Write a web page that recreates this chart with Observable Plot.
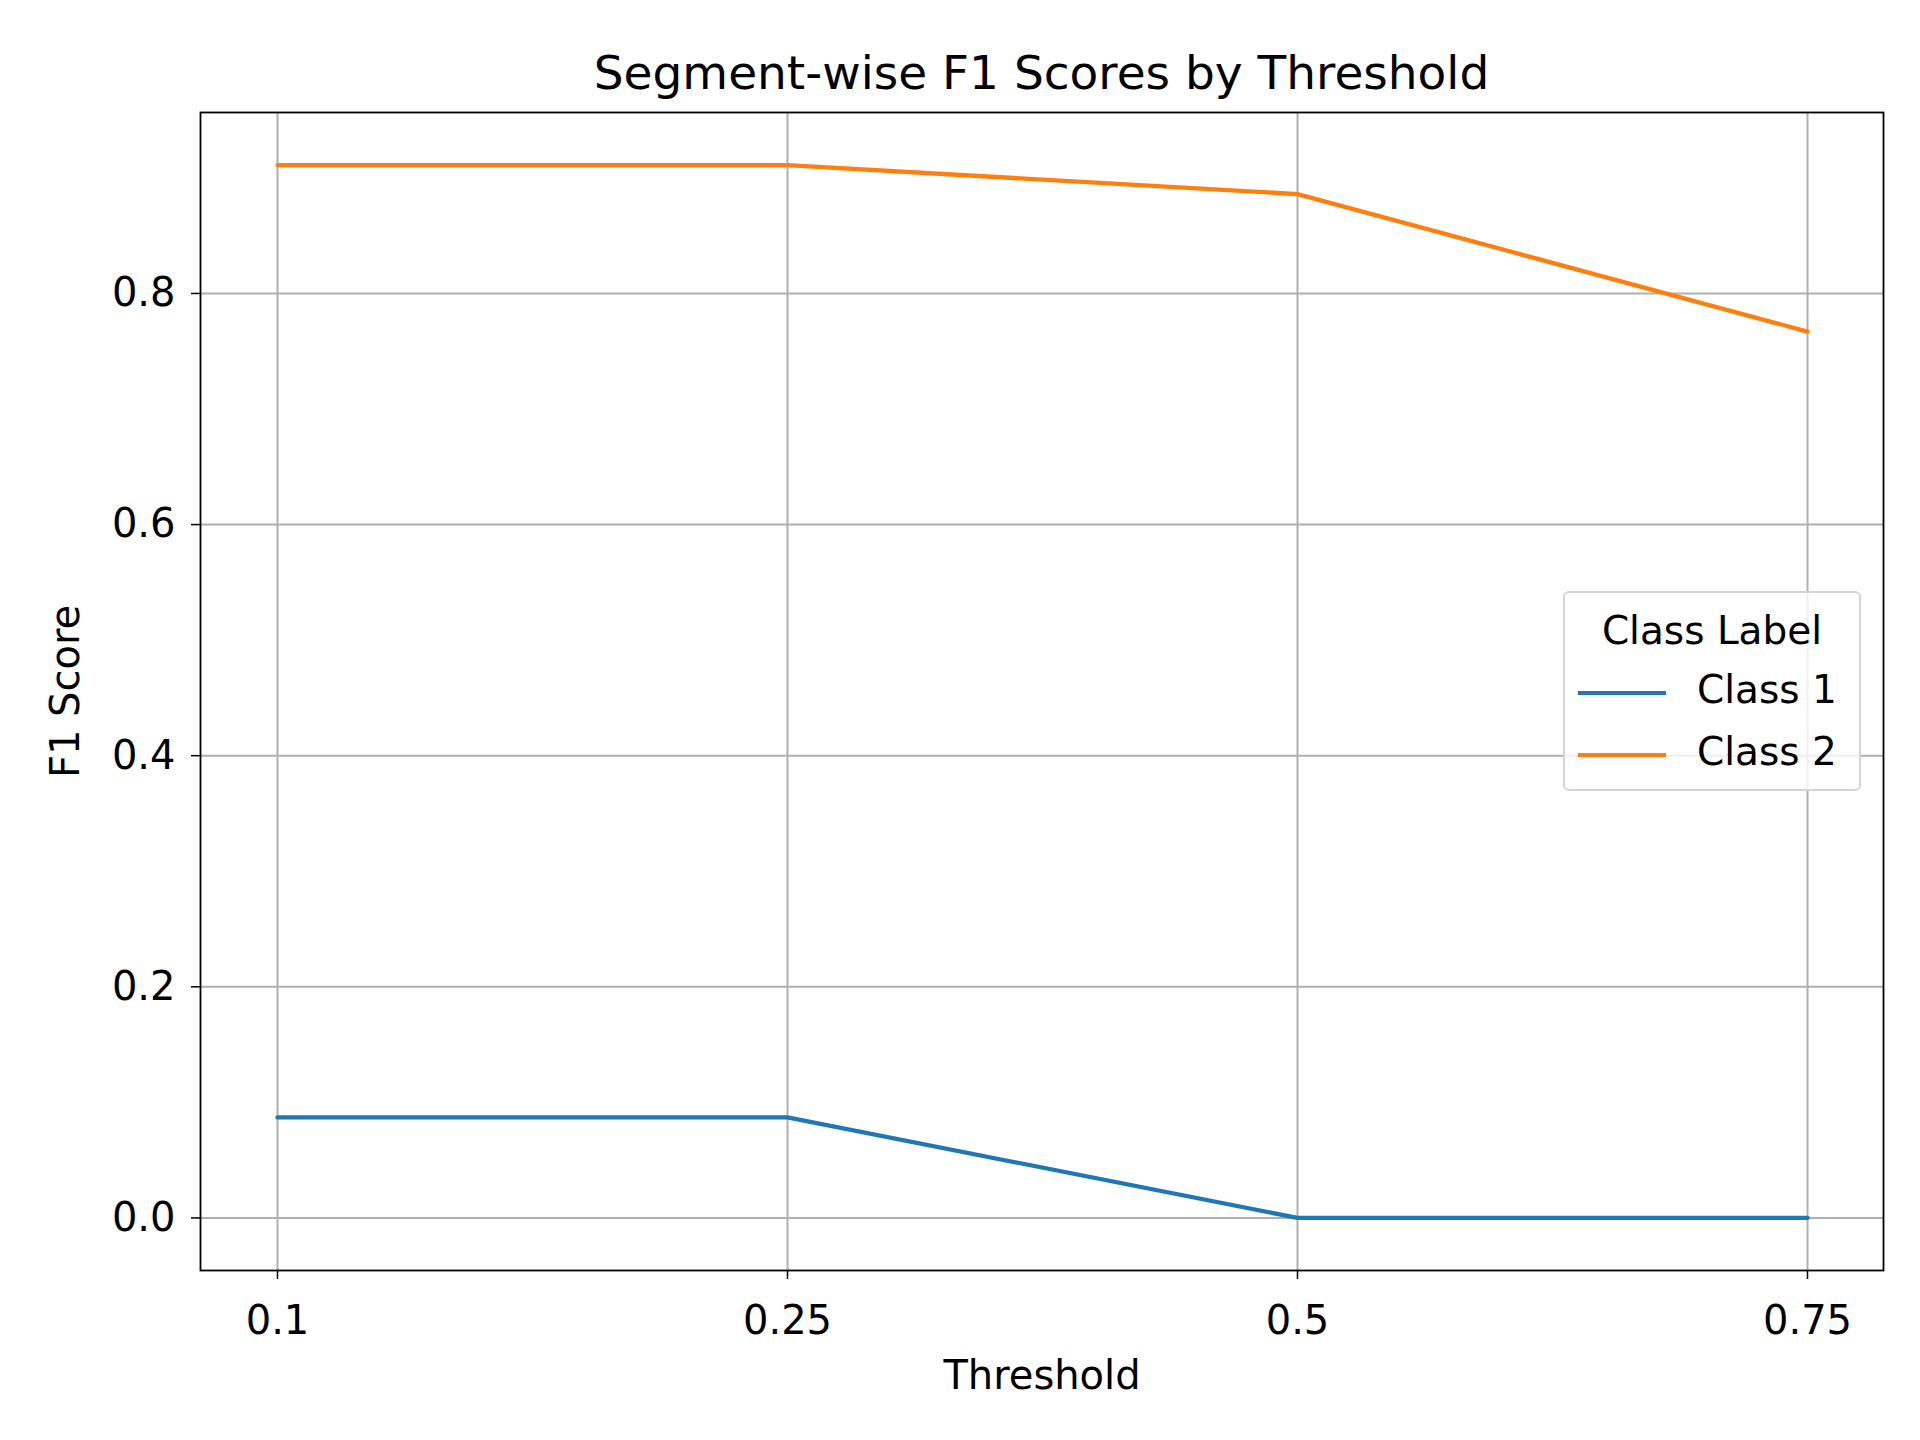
<!DOCTYPE html>
<meta charset="utf-8">
<script src="https://cdn.jsdelivr.net/npm/d3@7"></script>
<script src="https://cdn.jsdelivr.net/npm/@observablehq/plot@0.6"></script>
<div id="wrap">
	<div id="title">Segment-wise F1 Scores by Threshold</div>
	<div id="plot"></div>
	<div id="legend">
		<div class="lt">Class Label</div>
		<div class="row"><span class="sw" style="background:#1f77b4"></span>Class 1</div>
		<div class="row"><span class="sw" style="background:#ff7f0e"></span>Class 2</div>
	</div>
</div>
<script type="module">

const thresholds = ['0.1', '0.25', '0.5', '0.75'];
const class1 = [0.087, 0.087, 0.0, 0.0];
const class2 = [0.911, 0.911, 0.886, 0.767];
const yTicks = [0, 0.2, 0.4, 0.6, 0.8];

let rows = [];
thresholds.forEach((t, i) => {
	rows.push({threshold: t, f1: class1[i], cls: 'Class 1'});
	rows.push({threshold: t, f1: class2[i], cls: 'Class 2'});
});

const plot = Plot.plot({
	width: 1920,
	height: 1340,
	marginTop: 12,
	marginBottom: 170,
	marginLeft: 200,
	marginRight: 37,
	style: { fontFamily: 'DejaVu Sans', fontSize: '40px', color: 'black' },
	x: { type: 'point', domain: thresholds, padding: 0.15 },
	y: { domain: [-0.0455, 0.9566] },
	color: { domain: ['Class 1', 'Class 2'], range: ['#1f77b4', '#ff7f0e'] },
	marks: [
		Plot.gridX(thresholds, { stroke: '#b0b0b0', strokeOpacity: 1, strokeWidth: 2 }),
		Plot.gridY(yTicks, { stroke: '#b0b0b0', strokeOpacity: 1, strokeWidth: 2 }),
		Plot.axisX({ tickSize: 9, tickPadding: 26, strokeWidth: 1.5,
			label: 'Threshold', labelAnchor: 'center', labelOffset: 118, labelArrow: 'none' }),
		Plot.axisY(yTicks, { tickSize: 9, tickPadding: 16, strokeWidth: 1.5, tickFormat: d3.format('.1f'),
			label: 'F1 Score', labelAnchor: 'center', labelOffset: 150, labelArrow: 'none' }),
		Plot.line(rows, { x: 'threshold', y: 'f1', z: 'cls', stroke: 'cls', strokeWidth: 4.3 }),
		Plot.frame({ stroke: 'black', strokeWidth: 1.8 }),
	],
});
document.querySelector('#plot').append(plot);

</script>
<style>
html, body { margin: 0; background: white; }
#wrap { position: relative; width: 1920px; height: 1440px; font-family: 'DejaVu Sans'; }
#title { height: 100px; line-height: 146px; text-align: center; font-size: 47px; padding-left: 200px; padding-right: 37px; box-sizing: border-box; }
#plot svg { display: block; }
#legend { position: absolute; left: 1563px; top: 591px; width: 298px; height: 200px; box-sizing: border-box;
	border: 2px solid #d5d5d5; border-radius: 6px; background: rgba(255,255,255,0.8); font-size: 39px; }
.lt { text-align: center; margin-top: 10px; height: 56px; line-height: 56px; }
.row { height: 62px; line-height: 62px; padding-left: 13px; white-space: nowrap; }
.sw { display: inline-block; width: 88px; height: 4px; vertical-align: middle; margin-right: 31px; }
</style>
